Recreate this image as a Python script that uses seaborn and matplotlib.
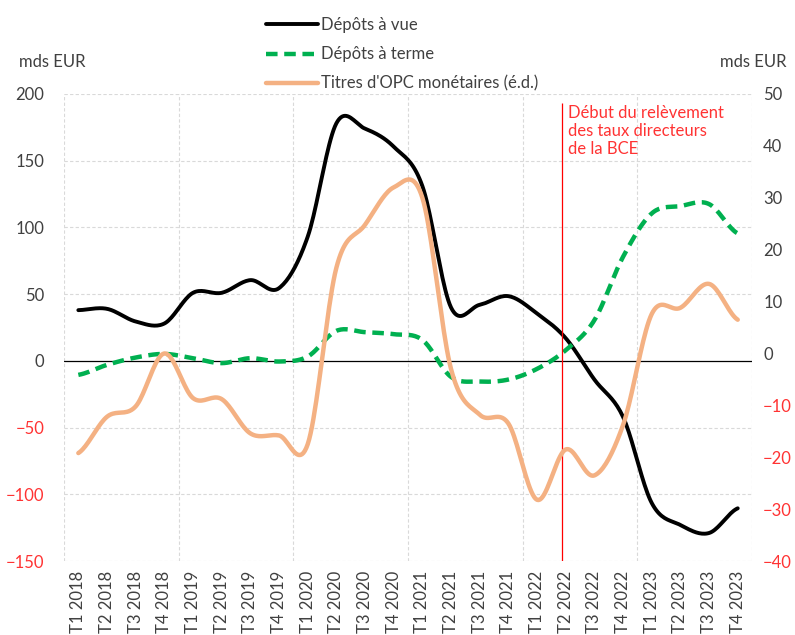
#!/usr/bin/env python3
# coding: utf-8
import numpy as np
import pandas as pd
import seaborn as sns
import matplotlib.pyplot as plt

# ------------------------------------------------
# Data (mds EUR, quarterly flows)
# ------------------------------------------------
quarters = ["T1 2018", "T2 2018", "T3 2018", "T4 2018",
            "T1 2019", "T2 2019", "T3 2019", "T4 2019",
            "T1 2020", "T2 2020", "T3 2020", "T4 2020",
            "T1 2021", "T2 2021", "T3 2021", "T4 2021",
            "T1 2022", "T2 2022", "T3 2022", "T4 2022",
            "T1 2023", "T2 2023", "T3 2023", "T4 2023"]

depots_vue = [38, 39, 29.5, 28, 51, 51, 60.5, 54.5, 93, 178, 174, 160.5,
              131, 40, 42, 48.5, 35.5, 17, -14, -42, -106.5, -123, -129, -110.5]

depots_terme = [-10.5, -3, 2.5, 5.2, 2, -1.7, 2, -0.5, 3.2, 22.5, 21.5, 20,
                15.7, -12, -15.5, -14, -6, 8, 30.5, 78, 110.5, 116, 117.5, 95.5]

# right axis (é.d.)
titres_opc = [-19.2, -12.2, -10.2, 0, -8.6, -8.8, -15.4, -15.8, -17.5, 16.5, 24.8, 32,
              30, -3, -11.8, -13.5, -28.2, -18.5, -23.5, -13.8, 7.6, 8.8, 13.4, 6.5]

left_ticks = [-150, -100, -50, 0, 50, 100, 150, 200]
right_ticks = [-40, -30, -20, -10, 0, 10, 20, 30, 40, 50]

hike_label = "Début du relèvement\ndes taux directeurs\nde la BCE"
hike_pos = 16.87  # just before T2 2022


# ------------------------------------------------
# Smoothed line (display only, like Excel "smoothed line")
# ------------------------------------------------
def smooth(values, n=20):
    y = np.asarray(values, dtype=float)
    p = np.concatenate([[y[0]], y, [y[-1]]])
    xs, ys = [], []
    for i in range(len(y) - 1):
        p0, p1, p2, p3 = p[i], p[i + 1], p[i + 2], p[i + 3]
        t = np.linspace(0, 1, n, endpoint=False)
        seg = 0.5 * ((2 * p1) + (-p0 + p2) * t + (2 * p0 - 5 * p1 + 4 * p2 - p3) * t ** 2
                     + (-p0 + 3 * p1 - 3 * p2 + p3) * t ** 3)
        xs.append(i + t)
        ys.append(seg)
    xs.append([len(y) - 1])
    ys.append([y[-1]])
    return pd.DataFrame({"x": np.concatenate(xs), "y": np.concatenate(ys)})


# ------------------------------------------------
# Plot
# ------------------------------------------------
sns.set_theme(style="white")
plt.rcParams['font.family'] = ['Lato', 'DejaVu Sans']

grey = "#404040"
red = "#FF3333"
fs = 12

fig, ax = plt.subplots(figsize=(7.95, 6.35), dpi=100)
fig.subplots_adjust(left=0.0805, right=0.946, top=0.852, bottom=0.1165)
ax2 = ax.twinx()

sns.lineplot(data=smooth(depots_vue), x="x", y="y", ax=ax, color="black",
             lw=2.8, label="Dépôts à vue", legend=False)
sns.lineplot(data=smooth(depots_terme), x="x", y="y", ax=ax, color="#00B050",
             lw=3.2, label="Dépôts à terme", legend=False)
ax.lines[-1].set_dashes((2.6, 1.5))
sns.lineplot(data=smooth(titres_opc), x="x", y="y", ax=ax2, color="#F4B183",
             lw=3.2, label="Titres d'OPC monétaires (é.d.)", legend=False)

# axes
ax.set_xlim(-0.5, len(quarters) - 0.5)
ax.set_ylim(-150, 200)
ax2.set_ylim(-40, 50)
ax.set_yticks(left_ticks)
ax2.set_yticks(right_ticks)
ax.set_xticks(range(len(quarters)))
ax.set_xticklabels(quarters, rotation=90, fontsize=fs, color=grey)
ax.set_xlabel("")
ax.set_ylabel("")
ax2.set_ylabel("")
ax.tick_params(axis="y", length=0, pad=14, labelsize=fs)
ax.tick_params(axis="x", length=0, pad=7)
ax2.tick_params(axis="y", length=0, pad=8, labelsize=fs)
for lab, v in zip(ax.get_yticklabels(), left_ticks):
    lab.set_color(red if v < 0 else grey)
for lab, v in zip(ax2.get_yticklabels(), right_ticks):
    lab.set_color(red if v < 0 else grey)

for a in (ax, ax2):
    for s in a.spines.values():
        s.set_visible(False)
    a.grid(False)

# grid: horizontal on left ticks, vertical on year boundaries
for v in left_ticks:
    if v != 0:
        ax.axhline(v, color="#D9D9D9", lw=0.8, ls=(0, (3, 2)), zorder=0)
for b in np.arange(-0.5, len(quarters), 4):
    ax.axvline(b, color="#D9D9D9", lw=0.8, ls=(0, (3, 2)), zorder=0)
ax.axhline(0, color="black", lw=0.9, zorder=1)

# policy rate hike marker
ax.vlines(hike_pos, -150, 193, color="#FF0000", lw=0.9, zorder=3)
ax.text(hike_pos + 0.2, 192, hike_label, color=red, fontsize=fs, va="top",
        ha="left", linespacing=1.15)

# unit labels
fig.text(19 / 795, 1 - 62 / 635, "mds EUR", fontsize=fs, color=grey, va="center", ha="left")
fig.text(787 / 795, 1 - 62 / 635, "mds EUR", fontsize=fs, color=grey, va="center", ha="right")

# legend
handles = ax.get_lines()[:2] + ax2.get_lines()[:1]
labels = ["Dépôts à vue", "Dépôts à terme", "Titres d'OPC monétaires (é.d.)"]
fig.legend(handles, labels, loc="upper left", bbox_to_anchor=(251 / 795, 1 - 2 / 635),
           frameon=False, fontsize=fs, handlelength=3.1, handletextpad=0.2,
           labelspacing=0.8, labelcolor=grey)

plt.savefig("out.png", dpi=100)
plt.close(fig)
